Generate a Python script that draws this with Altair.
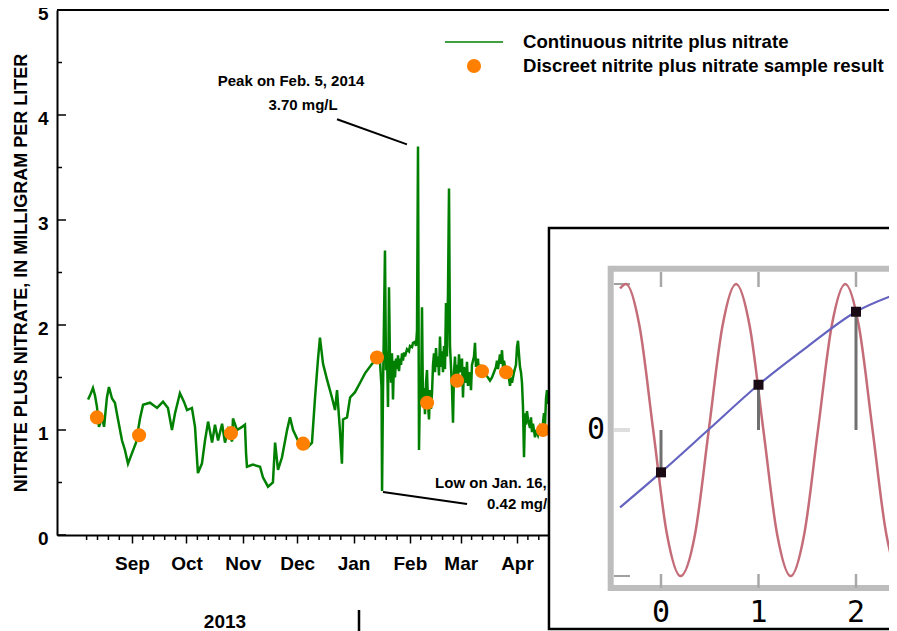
import altair as alt
import pandas as pd

# ---------------- values ----------------
BASE_DATE = pd.Timestamp("2013-09-01")   # day offsets below count from this date

# continuous nitrite plus nitrate (day offset, mg/L)
cont_day = [-24.2, -23.1, -21.5, -20.4, -19.3, -18.2, -16.5, -15.4, -13.8, -12.7,
            -11.0, -9.4, -7.7, -5.5, -3.9, -2.2, 0.0, 2.2, 4.4, 6.1,
            9.9, 13.8, 17.1, 19.8, 22.0, 23.7, 26.4, 28.6, 30.3, 33.0,
            34.7, 36.3, 38.5, 40.2, 41.9, 44.1, 45.7, 47.4, 49.6, 51.2,
            52.9, 55.1, 55.6, 57.8, 60.6, 62.2, 62.8, 63.3, 66.6, 70.5,
            72.1, 74.9, 77.6, 78.8, 80.4, 82.6, 85.4, 87.0, 88.7, 91.4,
            94.2, 96.4, 99.1, 100.8, 102.4, 103.5, 105.2, 107.4, 110.1, 111.8,
            112.9, 114.5, 115.6, 116.2, 118.4, 120.1, 122.8, 125.6, 128.3, 132.2,
            134.9, 136.6, 137.4, 137.7, 138.2, 139.3,
            139.87, 140.42, 140.97, 141.52, 142.07, 142.62, 143.17, 143.72, 144.27, 144.82,
            145.37, 145.93, 146.48, 147.03, 147.58, 148.13, 148.68, 149.23, 149.78, 150.33,
            151.43, 152.53, 153.08, 154.19, 154.74, 155.84, 156.39, 156.94, 157.49, 158.04,
            158.59, 159.14, 159.69, 160.24, 160.79, 161.34, 161.89, 162.44, 163.0, 163.55,
            164.1, 164.65, 165.2, 165.75, 166.3, 166.85, 167.4, 167.95, 168.5, 169.05,
            169.6, 170.15, 170.7, 171.25, 171.8, 172.35, 172.9, 173.45, 174.0, 174.56,
            175.11, 175.66, 176.21, 176.76, 177.31, 177.86, 178.41, 178.96, 179.51, 180.06,
            180.61, 181.71, 182.26, 182.81, 183.91, 184.46, 185.01, 186.11, 186.67, 187.22,
            188.32, 188.87, 189.42, 190.52, 191.07, 191.62, 192.72, 193.82, 194.92, 196.03,
            197.13, 198.23, 199.33, 200.43, 200.98, 201.53, 202.64, 203.19, 203.74, 204.29,
            204.84, 205.94, 206.49, 207.04, 208.15, 208.7, 209.25, 210.35, 211.45, 212.0,
            212.55, 213.1, 213.65, 214.2, 214.75, 215.3, 215.86, 216.41, 216.96, 217.51,
            218.06, 219.16, 219.71, 220.26, 220.81, 221.92, 222.47, 223.57, 224.67, 225.77,
            226.88, 227.43, 227.98, 228.53, 229.08, 229.63, 235.7]
cont_val = [1.29, 1.33, 1.40, 1.33, 1.22, 1.03, 1.12, 1.03, 1.31, 1.41,
            1.30, 1.26, 1.10, 0.90, 0.81, 0.68, 0.78, 0.88, 1.11, 1.24,
            1.26, 1.21, 1.27, 1.21, 1.00, 1.16, 1.35, 1.27, 1.19, 1.21,
            1.03, 0.59, 0.68, 0.90, 1.08, 0.88, 1.05, 0.90, 1.06, 0.88,
            1.00, 0.89, 1.11, 1.00, 1.03, 1.05, 0.78, 0.65, 0.67, 0.65,
            0.55, 0.46, 0.50, 0.88, 0.62, 0.74, 1.00, 1.12, 1.00, 0.90,
            0.85, 0.83, 0.88, 1.31, 1.67, 1.88, 1.63, 1.48, 1.31, 1.19,
            1.38, 1.00, 0.68, 1.10, 1.12, 1.31, 1.36, 1.45, 1.54, 1.63,
            1.68, 1.64, 1.41, 0.42, 1.35, 2.71,
            1.57, 1.75, 1.22, 2.36, 1.64, 1.45, 1.73, 1.29, 1.66, 1.50,
            1.68, 1.58, 1.71, 1.56, 1.68, 1.62, 1.73, 1.66, 1.74, 1.70,
            1.77, 1.75, 1.80, 1.79, 1.83, 1.84, 1.80, 1.95, 3.70, 0.81,
            1.45, 1.25, 2.17, 1.22, 1.40, 1.15, 1.45, 1.57, 1.25, 1.10,
            1.38, 1.20, 1.35, 1.62, 1.73, 1.55, 1.78, 1.60, 1.70, 1.52,
            1.89, 1.60, 1.75, 1.55, 1.80, 1.58, 2.21, 1.70, 2.30, 3.30,
            1.80, 1.60, 1.40, 1.07, 1.55, 1.70, 1.45, 1.62, 1.50, 1.72,
            1.55, 1.68, 1.31, 1.60, 1.45, 1.65, 1.42, 1.55, 1.38, 1.62,
            1.70, 1.83, 1.60, 1.68, 1.52, 1.62, 1.55, 1.58, 1.52, 1.50,
            1.47, 1.50, 1.55, 1.60, 1.66, 1.58, 1.72, 1.63, 1.76, 1.60,
            1.66, 1.55, 1.50, 1.56, 1.42, 1.50, 1.45, 1.55, 1.62, 1.79,
            1.85, 1.72, 1.60, 1.55, 1.45, 1.22, 0.74, 1.16, 1.05, 1.18,
            1.10, 1.02, 1.12, 0.98, 1.06, 0.93, 1.00, 0.95, 1.03, 0.98,
            1.16, 1.05, 1.30, 1.38, 1.25, 1.32, 1.30]

# discrete samples (day offset, mg/L)
disc_day = [-19.3, 3.9, 54.5, 94.2, 134.9, 162.5, 179.0, 192.7, 206.0, 226.3]
disc_val = [1.12, 0.95, 0.97, 0.87, 1.69, 1.26, 1.47, 1.56, 1.55, 1.00]

legend_labels = ["Continuous nitrite plus nitrate",
                 "Discreet nitrite plus nitrate sample result"]
y_title = "NITRITE PLUS NITRATE, IN MILLIGRAM PER LITER"

# annotations (anchor day offset, value)
peak_text = ["Peak on Feb. 5, 2014", "3.70 mg/L"]
peak_text_day = [87.6, 94.2]
peak_text_val = [4.32, 4.10]
low_text = ["Low on Jan. 16, 2014", "0.42 mg/L"]
low_text_day = [166.9, 195.5]
low_text_val = [0.495, 0.295]
peak_leader_day = [112.9, 151.4]
peak_leader_val = [3.96, 3.72]
low_leader_day = [138.2, 184.5]
low_leader_val = [0.41, 0.295]

year_label = "2013"
year_label_day = 51.2
year_sep_day = 125.0

y_major = [0, 1, 2, 3, 4, 5]
y_minor = [0.5, 1.5, 2.5, 3.5, 4.5]

# inset picture
inset_red_x = [-0.42, -0.36, -0.22, -0.08, 0.06, 0.20, 0.35, 0.49, 0.63, 0.77, 0.91, 1.05,
               1.19, 1.33, 1.47, 1.61, 1.75, 1.89, 2.03, 2.17, 2.31, 2.45, 2.59]
inset_red_y = [0.97, 1.00, 0.71, 0.00, -0.71, -1.00, -0.71, 0.00, 0.71, 1.00, 0.71, 0.00,
               -0.71, -1.00, -0.71, 0.00, 0.71, 1.00, 0.71, 0.00, -0.71, -1.00, -0.71]
inset_blue_x = [-0.42, 0.0, 0.5, 1.0, 1.5, 2.0, 2.45, 2.7]
inset_blue_y = [-0.53, -0.29, 0.01, 0.31, 0.57, 0.81, 0.94, 1.0]
inset_samp_x = [0, 1, 2]
inset_samp_y = [-0.29, 0.31, 0.81]
inset_xticks = [0, 1, 2]
inset_xtick_labels = ["0", "1", "2"]
inset_yticks_dark = [-1, 1]
inset_ylabel = "0"

# ---------------- layout ----------------
W, H = 832, 525
PX_PER_DAY = 1.816
LEFT_DAY = -41.3
RIGHT_DAY = LEFT_DAY + W / PX_PER_DAY
FONT = "Liberation Sans"
GREEN = "#008000"
ORANGE = "#ff8000"


def days(d):
    return [BASE_DATE + pd.Timedelta(days=float(v)) for v in d]


def dt(ts):
    return alt.DateTime(year=ts.year, month=ts.month, date=ts.day,
                        hours=ts.hour, minutes=ts.minute)


x_scale = alt.Scale(domain=[dt(days([LEFT_DAY])[0]), dt(days([RIGHT_DAY])[0])])
y_scale = alt.Scale(domain=[0, 5], nice=False, zero=False)

month_starts = pd.date_range("2013-09-01", "2014-10-01", freq="MS")
month_values = [alt.DateTime(year=m.year, month=m.month, date=1) for m in month_starts]
minor_dates = [pd.Timestamp(m.year, m.month, dd)
               for m in pd.date_range("2013-08-01", "2014-10-01", freq="MS")
               for dd in (7, 13, 19, 25)]

x_axis = alt.Axis(values=month_values, format="%b", title=None, grid=False,
                  domainColor="black", domainWidth=2, tickColor="black", tickWidth=1.5,
                  tickSize=8, labelFont=FONT, labelFontSize=19, labelFontWeight="bold",
                  labelColor="black", labelPadding=11, labelFlush=False, labelOverlap=False)
y_axis = alt.Axis(values=y_major, format="d", grid=False, ticks=False, tickSize=0,
                  domainColor="black", domainWidth=2, labelFont=FONT, labelFontSize=19,
                  labelFontWeight="bold", labelColor="black", labelPadding=9, labelOffset=3,
                  title=y_title, titleFont=FONT, titleFontSize=18, titleFontWeight="bold",
                  titleColor="black", titleX=-27, titleY=H / 2, titleAngle=270,
                  titleAlign="center", titleBaseline="bottom")


def X(field, axis=None):
    return alt.X(f"{field}:T", scale=x_scale, axis=axis, title=None)


def Y(field, axis=None):
    return alt.Y(f"{field}:Q", scale=y_scale, axis=axis, title=None)


one = pd.DataFrame({"a": [0]})

cont_df = pd.DataFrame({"date": days(cont_day), "v": cont_val})
disc_df = pd.DataFrame({"date": days(disc_day), "v": disc_val})

line = alt.Chart(cont_df).mark_line(color=GREEN, strokeWidth=2.5).encode(
    x=X("date", x_axis), y=Y("v", y_axis), order="date:T")
pts = alt.Chart(disc_df).mark_circle(color=ORANGE, opacity=1, size=200).encode(
    x=X("date"), y=Y("v"))

yt_major = alt.Chart(pd.DataFrame({"v": y_major})).mark_rule(color="black", strokeWidth=1.5).encode(
    y=Y("v"), x=alt.value(0), x2=alt.value(9))
yt_minor = alt.Chart(pd.DataFrame({"v": y_minor})).mark_rule(color="black", strokeWidth=1.5).encode(
    y=Y("v"), x=alt.value(0), x2=alt.value(5))
xt_minor = alt.Chart(pd.DataFrame({"date": minor_dates})).mark_rule(color="black", strokeWidth=1.5).encode(
    x=X("date"), y=alt.value(H), y2=alt.value(H + 5))
top_border = alt.Chart(one).mark_rule(color="black", strokeWidth=2).encode(
    x=alt.value(0), x2=alt.value(W + 10), y=alt.value(0))

peak_df = pd.DataFrame({"date": days(peak_text_day), "v": peak_text_val, "t": peak_text})
peak_txt = alt.Chart(peak_df).mark_text(font=FONT, fontSize=15, fontWeight="bold",
                                        color="black", align="center", baseline="middle").encode(
    x=X("date"), y=Y("v"), text="t:N")
low_df = pd.DataFrame({"date": days(low_text_day), "v": low_text_val, "t": low_text})
low_txt = alt.Chart(low_df).mark_text(font=FONT, fontSize=15, fontWeight="bold",
                                      color="black", align="left", baseline="middle").encode(
    x=X("date"), y=Y("v"), text="t:N")

lead_df = pd.DataFrame({
    "d1": days([peak_leader_day[0], low_leader_day[0]]),
    "d2": days([peak_leader_day[1], low_leader_day[1]]),
    "v1": [peak_leader_val[0], low_leader_val[0]],
    "v2": [peak_leader_val[1], low_leader_val[1]],
})
leaders = alt.Chart(lead_df).mark_rule(color="black", strokeWidth=2).encode(
    x=X("d1"), x2="d2:T", y=Y("v1"), y2="v2:Q")

year_df = pd.DataFrame({"date": days([year_label_day]), "t": [year_label]})
year_txt = alt.Chart(year_df).mark_text(font=FONT, fontSize=19, fontWeight="bold",
                                        color="black", baseline="middle").encode(
    x=X("date"), y=alt.value(611.5), text="t:N")
sep_df = pd.DataFrame({"date": days([year_sep_day])})
year_sep = alt.Chart(sep_df).mark_rule(color="black", strokeWidth=2.5).encode(
    x=X("date"), y=alt.value(600), y2=alt.value(640))

leg_line = alt.Chart(one).mark_rule(color=GREEN, strokeWidth=1.7).encode(
    x=alt.value(388), x2=alt.value(446), y=alt.value(32))
leg_dot = alt.Chart(one).mark_circle(color=ORANGE, opacity=1, size=200).encode(
    x=alt.value(417), y=alt.value(56))
leg_t1 = alt.Chart(one).mark_text(text=legend_labels[0], font=FONT, fontSize=18.6, fontWeight="bold",
                                  color="black", align="left", baseline="middle").encode(
    x=alt.value(466), y=alt.value(32))
leg_t2 = alt.Chart(one).mark_text(text=legend_labels[1], font=FONT, fontSize=18.6, fontWeight="bold",
                                  color="black", align="left", baseline="middle").encode(
    x=alt.value(466), y=alt.value(56))

# ---------------- inset ----------------
ix_scale = alt.Scale(domain=[0, 2], range=[604, 799], nice=False, zero=False)
iy_scale = alt.Scale(domain=[-1, 1], range=[566, 274], nice=False, zero=False)


def IX(field):
    return alt.X(f"{field}:Q", scale=ix_scale, axis=None, title=None)


def IY(field):
    return alt.Y(f"{field}:Q", scale=iy_scale, axis=None, title=None)


box_df = pd.DataFrame({"x0": [-1.149], "x1": [2.8], "y0": [-1.363], "y1": [1.384]})
inset_box = alt.Chart(box_df).mark_rect(fill="white", stroke="black", strokeWidth=2.5).encode(
    x=IX("x0"), x2="x1:Q", y=IY("y0"), y2="y1:Q")
frame_df = pd.DataFrame({"x0": [-0.516], "x1": [2.9], "y0": [-1.082], "y1": [1.105]})
inset_frame = alt.Chart(frame_df).mark_rect(fill="white", stroke="#bdbdbd", strokeWidth=6).encode(
    x=IX("x0"), x2="x1:Q", y=IY("y0"), y2="y1:Q")

tick_df = pd.DataFrame({"x": inset_xticks, "lab": inset_xtick_labels})
top_ticks = alt.Chart(tick_df).mark_rule(color="#a8a8a8", strokeWidth=2.5).encode(
    x=IX("x"), y=alt.value(262), y2=alt.value(277))
bot_ticks = alt.Chart(tick_df).mark_rule(color="#a8a8a8", strokeWidth=2.5).encode(
    x=IX("x"), y=alt.value(564), y2=alt.value(578))
ltick_df = pd.DataFrame({"y": inset_yticks_dark})
left_ticks = alt.Chart(ltick_df).mark_rule(color="#a0a0a0", strokeWidth=2).encode(
    y=IY("y"), x=alt.value(557), x2=alt.value(573))
ztick = alt.Chart(pd.DataFrame({"y": [0]})).mark_rule(color="#dedede", strokeWidth=4).encode(
    y=IY("y"), x=alt.value(557), x2=alt.value(573))

red_df = pd.DataFrame({"x": inset_red_x, "y": inset_red_y})
red = alt.Chart(red_df).mark_line(color="#c46c78", strokeWidth=2.5, interpolate="monotone").encode(
    x=IX("x"), y=IY("y"), order="x:Q")
blue_df = pd.DataFrame({"x": inset_blue_x, "y": inset_blue_y})
blue = alt.Chart(blue_df).mark_line(color="#6464c0", strokeWidth=2.2, interpolate="monotone").encode(
    x=IX("x"), y=IY("y"), order="x:Q")
samp_df = pd.DataFrame({"x": inset_samp_x, "y": inset_samp_y, "z": [0, 0, 0]})
stems = alt.Chart(samp_df).mark_rule(color="#707070", strokeWidth=3).encode(
    x=IX("x"), y=IY("z"), y2="y:Q")
samp = alt.Chart(samp_df).mark_square(color="#1a0a14", opacity=1, size=100).encode(
    x=IX("x"), y=IY("y"))

ilab_df = pd.DataFrame({"x": inset_xticks, "lab": inset_xtick_labels, "y": [-1.253] * 3})
ilabs = alt.Chart(ilab_df).mark_text(font="DejaVu Sans Mono", fontSize=30, color="black",
                                     baseline="middle").encode(
    x=IX("x"), y=IY("y"), text="lab:N")
iylab = alt.Chart(pd.DataFrame({"x": [-0.667], "y": [0], "lab": [inset_ylabel]})).mark_text(
    font="DejaVu Sans Mono", fontSize=30, color="black", baseline="middle").encode(
    x=IX("x"), y=IY("y"), text="lab:N")

chart = alt.layer(
    line, pts, yt_major, yt_minor, xt_minor, top_border, peak_txt, low_txt, leaders,
    year_txt, year_sep, leg_line, leg_dot, leg_t1, leg_t2,
    inset_box, inset_frame, top_ticks, bot_ticks, left_ticks, ztick,
    red, blue, stems, samp, ilabs, iylab,
).resolve_scale(x="independent", y="independent").properties(
    width=W, height=H,
    autosize=alt.AutoSizeParams(type="none"),
    padding={"left": 49, "top": 2, "right": 0, "bottom": 96},
).configure_view(stroke=None)

chart.save("out.html", embed_options={"renderer": "svg", "actions": False})
